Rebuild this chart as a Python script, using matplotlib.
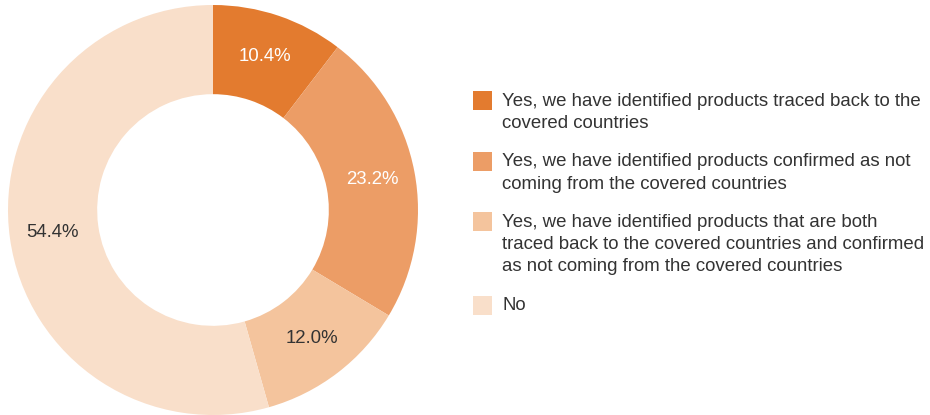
import matplotlib
matplotlib.use("Agg")
import matplotlib.pyplot as plt
from matplotlib.patches import Rectangle
import numpy as np

plt.rcParams['font.family'] = ['Liberation Sans', 'DejaVu Sans']

categories = [
    "Yes, we have identified products traced back to the\ncovered countries",
    "Yes, we have identified products confirmed as not\ncoming from the covered countries",
    "Yes, we have identified products that are both\ntraced back to the covered countries and confirmed\nas not coming from the covered countries",
    "No",
]
shares = [10.4, 23.2, 12.0, 54.4]
colors = ["#E37B2F", "#EC9D66", "#F4C49D", "#F9DFCA"]
label_colors = ["white", "white", "#333333", "#333333"]

W, H = 930, 415
fig = plt.figure(figsize=(W / 100, H / 100), dpi=100)

# donut centred at (213, 210) px with outer radius 205 px
cx, cy, r = 213, 210, 205
ax = fig.add_axes([(cx - r) / W, (H - cy - r) / H, 2 * r / W, 2 * r / H])
wedges, _ = ax.pie(shares, colors=colors, startangle=90, counterclock=False,
                   radius=1.0, wedgeprops=dict(width=0.435, linewidth=0))
ax.set_xlim(-1, 1)
ax.set_ylim(-1, 1)
ax.set_aspect('equal')
ax.axis('off')

start = 90.0
for val, col in zip(shares, label_colors):
    span = val * 3.6
    mid = np.deg2rad(start - span / 2)
    start -= span
    rr = 0.79
    ax.text(rr * np.cos(mid), rr * np.sin(mid), f"{val:.1f}%", ha='center',
            va='center', fontsize=13.4, color=col)

# legend drawn in pixel positions
line_h = 22
first_lines = [101, 162, 222, 305]
sq = 19
for lab, col, y0 in zip(categories, colors, first_lines):
    fig.patches.append(Rectangle((473 / W, (H - y0 - sq / 2) / H), sq / W, sq / H,
                                 transform=fig.transFigure, facecolor=col,
                                 edgecolor='none'))
    for i, line in enumerate(lab.split("\n")):
        fig.text(502 / W, (H - (y0 + i * line_h)) / H, line, ha='left',
                 va='center', fontsize=13.4, color="#333333")

fig.savefig("out.png", dpi=100)
